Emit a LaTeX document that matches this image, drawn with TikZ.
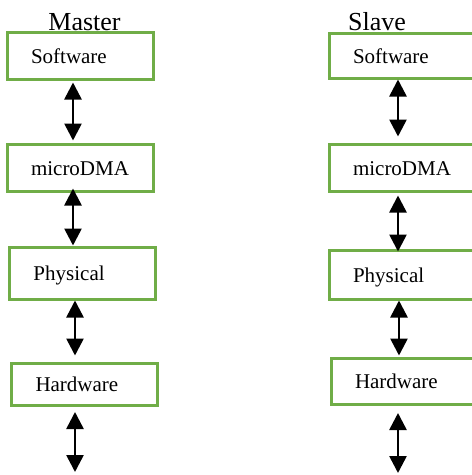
\documentclass[tikz,border=0pt]{standalone}
\usepackage{fontspec}
\setmainfont{Liberation Serif}
\usetikzlibrary{arrows.meta}
\definecolor{boxgreen}{RGB}{112,173,71}
\newcommand{\boxw}{146pt}
\newcommand{\padx}{23pt}

\begin{document}
\begin{tikzpicture}[x=1pt,y=-1pt,
    layer/.style={draw=boxgreen, line width=3pt, minimum width=\boxw,
        inner xsep=\padx, text width=98pt, align=left,
        text height=19pt, text depth=4pt,
        font=\fontsize{21}{24}\selectfont},
    title/.style={anchor=base, font=\fontsize{26}{30}\selectfont},
    link/.style={{Triangle[width=17pt,length=17pt]}-{Triangle[width=17pt,length=17pt]}, line width=2.6pt}]

        % Frame of the picture
        \useasboundingbox (0,0) rectangle (472,475);
        \clip (0,0) rectangle (472,475);

        % Titles
        \node[title] (master) at (84.5,30) {Master};
        \node[title] (slave) at (377,30) {Slave};

        % Master stack
        \node[layer, minimum height=47pt] (swM) at (80,55.5) {Software};
        \node[layer, minimum height=47pt] (dmaM) at (80,167.5) {microDMA};
        \node[layer, minimum height=52pt] (phyM) at (82.5,273) {Physical};
        \node[layer, minimum height=42pt] (hwM) at (84.5,384) {Hardware};

        % Slave stack
        \node[layer, minimum height=45pt] (swS) at (402,55.5) {Software};
        \node[layer, minimum height=47pt] (dmaS) at (402,167.5) {microDMA};
        \node[layer, minimum height=49pt] (phyS) at (402,274.5) {Physical};
        \node[layer, minimum height=46pt] (hwS) at (404,381) {Hardware};

        % Loose ends at the bottom
        \coordinate (topM) at (75,412);
        \coordinate (endM) at (75,472);
        \coordinate (topS) at (398,413);
        \coordinate (endS) at (398,473);

        % Links between the layers
        \draw[link] ([xshift=-7pt,yshift=-2pt]swM.south) -- ([xshift=-7pt,yshift=2pt]dmaM.north);
        \draw[link] ([xshift=-7pt,yshift=4pt]dmaM.south) -- ([xshift=-9.5pt]phyM.north);
        \draw[link] ([xshift=-7.5pt]phyM.south) -- ([xshift=-9.5pt,yshift=6pt]hwM.north);
        \draw[link] (topM) -- (endM);

        \draw[link] ([xshift=-4pt]swS.south) -- ([xshift=-4pt,yshift=6pt]dmaS.north);
        \draw[link] ([xshift=-4pt,yshift=-3pt]dmaS.south) -- ([xshift=-4pt,yshift=-3pt]phyS.north);
        \draw[link] ([xshift=-3pt]phyS.south) -- ([xshift=-5pt,yshift=1pt]hwS.north);
        \draw[link] (topS) -- (endS);
    \end{tikzpicture}
\end{document}
